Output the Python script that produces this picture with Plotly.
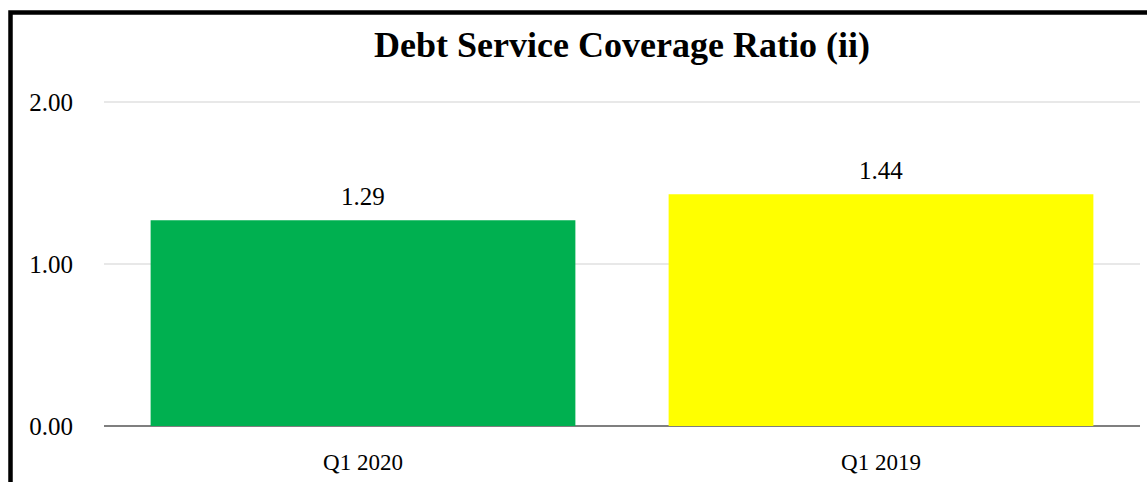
import plotly.graph_objects as go

categories = ["Q1 2020", "Q1 2019"]
values = [1.27, 1.43]
value_labels = ["1.29", "1.44"]
bar_colors = ["#00B050", "#FFFF00"]
tick_vals = [0, 1, 2]
tick_text = ["0.00", "1.00", "2.00"]

FONT = "Liberation Serif, Times New Roman, serif"

fig = go.Figure(
    go.Bar(x=categories, y=values, marker=dict(color=bar_colors, line=dict(width=0)),
           hoverinfo="skip")
)

for c, v, t in zip(categories, values, value_labels):
    fig.add_annotation(x=c, y=v, text=t, showarrow=False, yanchor="bottom",
                       yshift=8, font=dict(family=FONT, size=25, color="#000"))

fig.update_layout(
    width=1147, height=482,
    margin=dict(l=104, r=7, t=100, b=53),
    paper_bgcolor="white", plot_bgcolor="white",
    bargap=0.18,
    showlegend=False,
    title=dict(text="<b>Debt Service Coverage Ratio (ii)</b>", x=0.5, xref="paper",
               y=1 - 44 / 482, yref="container", yanchor="middle",
               font=dict(family=FONT, size=36, color="#000")),
    xaxis=dict(showgrid=False, showline=False, ticks="", ticklabelstandoff=20,
               tickfont=dict(family=FONT, size=23, color="#000")),
    yaxis=dict(range=[0, 2.012], tickvals=tick_vals, ticktext=tick_text,
               showgrid=True, gridcolor="#e8e8e8", gridwidth=2,
               zeroline=True, zerolinecolor="#7f7f7f", zerolinewidth=2,
               showline=False, ticks="", ticklabelstandoff=30,
               tickfont=dict(family=FONT, size=25, color="#000")),
    shapes=[dict(type="rect", xref="paper", yref="paper",
                 x0=(10.5 - 104) / 1036, x1=(1200 - 104) / 1036,
                 y0=(429 - 520) / 329, y1=(429 - 11.7) / 329,
                 line=dict(color="black", width=4.5), fillcolor="rgba(0,0,0,0)",
                 layer="above")],
)

fig.write_html("out.html")
